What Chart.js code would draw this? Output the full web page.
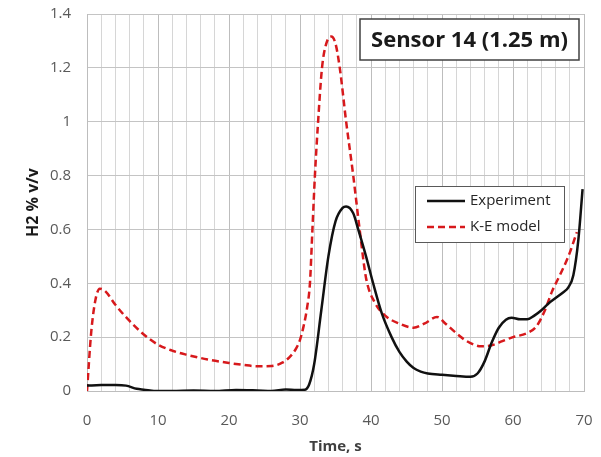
<!DOCTYPE html>
<html>
<head>
<meta charset="utf-8">
<script src="https://cdn.jsdelivr.net/npm/chart.js@4/dist/chart.umd.min.js"></script>
<style>
  html, body { margin: 0; padding: 0; background: #fff; }
  #wrap { width: 601px; height: 457px; }
</style>
</head>
<body>
<div id="wrap"><canvas id="chart"></canvas></div>
<script>
const chartTitle = 'Sensor 14 (1.25 m)';
const xTitle = 'Time, s';
const yTitle = 'H2 % v/v';

// Experiment (measured)
const expTime = [0, 2, 4, 5.5, 7, 8, 10, 12, 15, 18, 21, 24, 26, 28, 29.5, 30.7, 31.3, 32, 33, 34, 35, 36, 36.5, 37.5, 38.2, 39.3, 40.3, 41.5, 42.9, 44, 45, 46, 47, 48, 50, 52, 54, 55, 56, 57, 58, 59, 59.8, 61, 62, 63, 64, 65, 66, 67, 67.8, 68.5, 69.2, 69.8];
const expVals = [0.02, 0.022, 0.022, 0.02, 0.008, 0.005, 0.0, 0.0, 0.002, 0.0, 0.004, 0.002, 0.0, 0.006, 0.004, 0.005, 0.025, 0.1, 0.3, 0.5, 0.63, 0.68, 0.685, 0.66, 0.6, 0.5, 0.4, 0.29, 0.2, 0.145, 0.11, 0.085, 0.072, 0.065, 0.06, 0.056, 0.053, 0.065, 0.11, 0.18, 0.235, 0.265, 0.272, 0.266, 0.266, 0.28, 0.3, 0.325, 0.345, 0.365, 0.385, 0.43, 0.56, 0.75];

// K-E model (simulation)
const keTime = [0, 0.6, 1.2, 1.8, 2.6, 4, 6, 8, 10, 12, 14, 17, 20, 22, 24, 26, 27.5, 28.5, 29.5, 30, 30.5, 31, 31.4, 31.75, 32.1, 32.5, 33.1, 33.7, 34.4, 35, 35.6, 36.5, 37.5, 38.4, 39.3, 40.5, 42, 44, 46, 47.5, 49.3, 50.5, 52, 53.5, 55.5, 57, 58.5, 60, 62, 63.3, 64.5, 65.5, 66.6, 67.8, 69];
const keVals = [0.0, 0.22, 0.34, 0.38, 0.37, 0.32, 0.26, 0.21, 0.172, 0.15, 0.135, 0.117, 0.104, 0.097, 0.092, 0.093, 0.105, 0.125, 0.16, 0.19, 0.24, 0.31, 0.4, 0.6, 0.8, 0.98, 1.2, 1.29, 1.316, 1.29, 1.2, 1.0, 0.8, 0.6, 0.42, 0.33, 0.28, 0.25, 0.235, 0.25, 0.275, 0.25, 0.215, 0.185, 0.166, 0.17, 0.185, 0.2, 0.215, 0.24, 0.3, 0.37, 0.43, 0.5, 0.59];

const toPoints = (xs, ys) => xs.map((x, i) => ({ x: x, y: ys[i] }));

const fontFamily = '"Open Sans", "Liberation Sans", sans-serif';

// draws the boxed title and the boxed legend inside the plot area
const boxesPlugin = {
  id: 'boxes',
  afterDatasetsDraw(chart) {
    const ctx = chart.ctx;
    ctx.save();

    // title box
    ctx.fillStyle = '#fff';
    ctx.strokeStyle = '#404040';
    ctx.lineWidth = 1.5;
    const tx = 360, ty = 19, tw = 219, th = 41;
    ctx.fillRect(tx, ty, tw, th);
    ctx.strokeRect(tx, ty, tw, th);
    ctx.font = 'bold 22px ' + fontFamily;
    ctx.fillStyle = '#1a1a1a';
    ctx.textAlign = 'center';
    ctx.textBaseline = 'middle';
    ctx.fillText(chartTitle, tx + tw / 2, ty + th / 2 + 1);

    // legend box
    const lx = 415, ly = 186, lw = 149, lh = 56;
    ctx.fillStyle = '#fff';
    ctx.fillRect(lx, ly, lw, lh);
    ctx.strokeStyle = '#595959';
    ctx.lineWidth = 1;
    ctx.strokeRect(lx + 0.5, ly + 0.5, lw, lh);
    ctx.font = '15px ' + fontFamily;
    ctx.textAlign = 'left';
    chart.data.datasets.forEach((ds, i) => {
      const y = ly + 15 + i * 26;
      ctx.beginPath();
      ctx.strokeStyle = ds.borderColor;
      ctx.lineWidth = ds.borderWidth;
      ctx.setLineDash(ds.borderDash || []);
      ctx.moveTo(lx + 12, y);
      ctx.lineTo(lx + 50, y);
      ctx.stroke();
      ctx.setLineDash([]);
      ctx.fillStyle = '#262626';
      ctx.fillText(ds.label, lx + 55, y);
    });
    ctx.restore();
  }
};

new Chart(document.getElementById('chart'), {
  type: 'line',
  data: {
    datasets: [{
      label: 'Experiment',
      data: toPoints(expTime, expVals),
      borderColor: '#111111',
      borderWidth: 2.5,
      pointRadius: 0,
      tension: 0.4,
      cubicInterpolationMode: 'monotone'
    }, {
      label: 'K-E model',
      data: toPoints(keTime, keVals),
      borderColor: '#d7191c',
      borderWidth: 2.5,
      borderDash: [7, 4],
      pointRadius: 0,
      tension: 0.4,
      cubicInterpolationMode: 'monotone'
    }]
  },
  options: {
    responsive: true,
    maintainAspectRatio: false,
    animation: false,
    layout: { padding: { top: 14, right: 17, left: 20, bottom: 0 } },
    plugins: {
      legend: { display: false },
      tooltip: { enabled: false }
    },
    scales: {
      x: {
        type: 'linear',
        min: 0,
        max: 70,
        afterFit(scale) { scale.height = 66; },
        ticks: {
          stepSize: 2,
          autoSkip: false,
          maxRotation: 0,
          padding: 0,
          color: '#595959',
          font: { size: 15, family: fontFamily },
          callback: v => (v % 10 === 0 ? v : '')
        },
        grid: {
          drawTicks: true,
          tickLength: 21,
          tickColor: 'rgba(0,0,0,0)',
          color: ctx => (ctx.tick && ctx.tick.value % 10 === 0 ? '#bdbdbd' : '#d6d6d6'),
          lineWidth: 1
        },
        border: { color: '#bdbdbd' },
        title: {
          display: true,
          text: xTitle,
          color: '#404040',
          font: { size: 15, weight: 'bold', family: fontFamily },
          padding: { top: 0, bottom: 1 }
        }
      },
      y: {
        min: 0,
        max: 1.4,
        afterFit(scale) { scale.width = 67; },
        ticks: {
          stepSize: 0.2,
          padding: 0,
          color: '#595959',
          font: { size: 15, family: fontFamily },
          callback: v => Math.round(v * 10) / 10
        },
        grid: {
          drawTicks: true,
          tickLength: 16,
          tickColor: 'rgba(0,0,0,0)',
          color: '#c4c4c4'
        },
        border: { color: '#bdbdbd' },
        title: {
          display: true,
          text: yTitle,
          color: '#1a1a1a',
          font: { size: 16, weight: 'bold', family: fontFamily },
          padding: { bottom: 0 }
        }
      }
    }
  },
  plugins: [boxesPlugin]
});
</script>
</body>
</html>
